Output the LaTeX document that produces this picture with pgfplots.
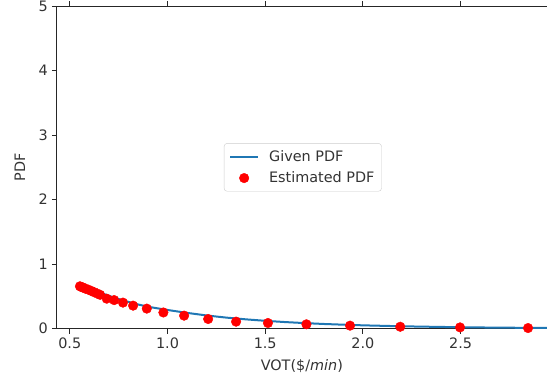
\documentclass[border=0pt]{standalone}
\usepackage{fontspec}
\setmainfont{DejaVu Sans}
\usepackage{pgfplots}
\pgfplotsset{compat=1.18}
\definecolor{mplblue}{HTML}{1F77B4}
\definecolor{legframe}{HTML}{CCCCCC}
\pgfplotsset{
  mpllinelegend/.style={legend image code/.code={\draw[##1] (0pt,0pt) -- (28pt,0pt);}},
  mpldotlegend/.style={legend image code/.code={\draw[##1] plot coordinates {(14pt,0pt)};}},
}
\begin{document}
\begin{tikzpicture}
\begin{axis}[
  scale only axis,
  width=490.3pt, height=322.7pt,
  xmin=0.433, xmax=2.942,
  ymin=0, ymax=5,
  xtick={0.5,1.0,1.5,2.0,2.5},
  xticklabels={0.5,1.0,1.5,2.0,2.5},
  ytick={0,1,2,3,4,5},
  axis x line*=box,
  axis y line*=left,
  axis line style={black!85, line width=0.9pt},
  tick align=outside,
  major tick length=4.9pt,
  tick style={black!85, line width=0.9pt},
  /pgf/number format/assume math mode=true,
  tick label style={font=\fontsize{14.4}{16}\selectfont, text=black!80},
  xticklabel style={yshift=-0.5pt},
  yticklabel style={xshift=-0.5pt},
  label style={font=\fontsize{14.4}{16}\selectfont, text=black!80},
  xlabel={VOT(\$/\textit{min})},
  ylabel={PDF},
  x label style={at={(axis description cs:0.5,-0.1156)}, anchor=center},
  y label style={at={(axis description cs:-0.0749,0.5)}, anchor=center},
  legend style={
    at={(axis description cs:0.502,0.5)}, anchor=center,
    draw=legframe, rounded corners=3pt, fill=white,
    font=\fontsize{14.4}{16}\selectfont,
    text=black!80,
    inner xsep=5pt, inner ysep=5pt,
    row sep=5pt,
    /tikz/every odd column/.append style={column sep=8pt},
  },
  legend cell align=left,
  clip=true,
]
\addplot[mplblue, line width=2pt, no marks, mpllinelegend]
coordinates {
(0.550,0.690)(0.600,0.625)(0.650,0.565)(0.700,0.510)(0.750,0.460)
(0.800,0.415)(0.850,0.375)(0.900,0.340)(0.950,0.315)(1.000,0.290)
(1.100,0.245)(1.200,0.205)(1.300,0.172)(1.400,0.145)(1.500,0.122)
(1.600,0.103)(1.700,0.087)(1.800,0.073)(1.900,0.062)(2.000,0.052)
(2.200,0.037)(2.400,0.027)(2.600,0.019)(2.800,0.014)(2.950,0.011)
};
\addlegendentry{Given PDF}
\addplot[only marks, mark=*, mark size=4.8pt, color=red, draw=red, fill=red, mpldotlegend]
coordinates {
(0.552,0.657)(0.560,0.645)(0.570,0.635)(0.580,0.620)(0.595,0.605)
(0.610,0.585)(0.625,0.565)(0.640,0.545)(0.655,0.525)(0.689,0.465)
(0.727,0.443)(0.772,0.404)(0.824,0.357)(0.894,0.311)(0.979,0.251)
(1.085,0.202)(1.208,0.150)(1.351,0.109)(1.514,0.088)(1.711,0.068)
(1.934,0.047)(2.191,0.030)(2.497,0.020)(2.845,0.010)
};
\addlegendentry{Estimated PDF}
\coordinate (bl) at (rel axis cs:0,0);
\coordinate (tr) at (rel axis cs:1,1);
\end{axis}
\pgfresetboundingbox
\path[use as bounding box] ([xshift=-56.7pt,yshift=-54.3pt]bl) rectangle ([yshift=6pt]tr);
\end{tikzpicture}
\end{document}
